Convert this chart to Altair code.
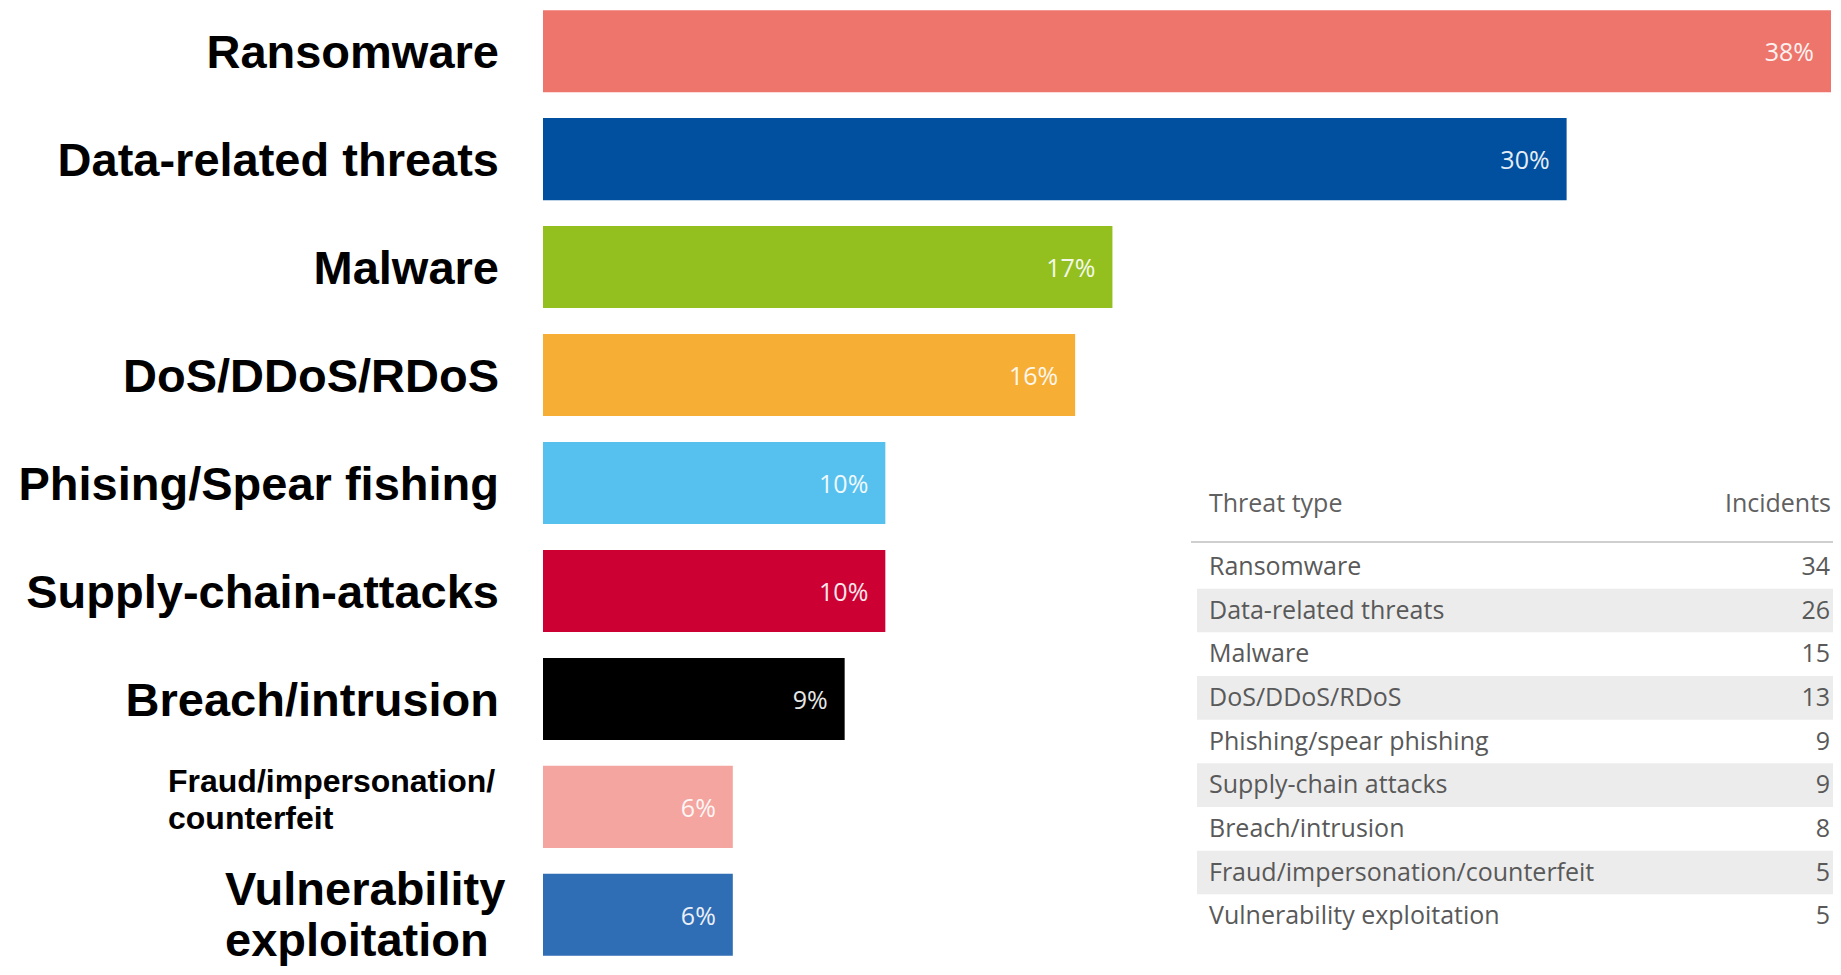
import altair as alt
import pandas as pd

# ---- data ----
categories = ["Ransomware", "Data-related threats", "Malware", "DoS/DDoS/RDoS",
              "Phising/Spear fishing", "Supply-chain-attacks", "Breach/intrusion",
              "Fraud/impersonation/\ncounterfeit", "Vulnerability\nexploitation"]
values = [38, 30.2, 16.8, 15.7, 10.1, 10.1, 8.9, 5.6, 5.6]
pct_labels = ["38%", "30%", "17%", "16%", "10%", "10%", "9%", "6%", "6%"]
colors = ["#ee756c", "#00509f", "#93c01f", "#f6ae35", "#56c1ee",
          "#cc0033", "#000000", "#f4a59f", "#2f6db5"]

table_types = ["Ransomware", "Data-related threats", "Malware", "DoS/DDoS/RDoS",
               "Phishing/spear phishing", "Supply-chain attacks", "Breach/intrusion",
               "Fraud/impersonation/counterfeit", "Vulnerability exploitation"]
table_incidents = [34, 26, 15, 13, 9, 9, 8, 5, 5]
table_header = ["Threat type", "Incidents"]

bars_df = pd.DataFrame({"cat": categories, "value": values, "pct": pct_labels})
table_df = pd.DataFrame({"ttype": table_types, "inc": table_incidents,
                         "idx": list(range(len(table_types)))})
header_df = pd.DataFrame({"h1": [table_header[0]], "h2": [table_header[1]]})

FRAUD = categories[7]
VULN = categories[8]

y_enc = alt.Y("cat:N", sort=categories, axis=None,
              scale=alt.Scale(paddingInner=0.24, paddingOuter=0.02))
x_scale = alt.Scale(domain=[0, 38], nice=False, zero=True)

base = alt.Chart(bars_df)

bars = base.mark_bar().encode(
    y=y_enc,
    x=alt.X("value:Q", scale=x_scale, axis=None),
    color=alt.Color("cat:N", scale=alt.Scale(domain=categories, range=colors), legend=None),
)

pct = base.mark_text(align="right", baseline="middle", dx=-17, dy=2,
                     font="Open Sans", fontSize=25, color="white", opacity=0.9).encode(
    y=y_enc,
    x=alt.X("value:Q", scale=x_scale),
    text="pct:N",
)

labels_main = base.transform_filter(
    (alt.datum.cat != FRAUD) & (alt.datum.cat != VULN)
).mark_text(align="right", baseline="middle", dx=-44, dy=3, font="Liberation Sans",
            fontWeight="bold", fontSize=47, color="black").encode(
    y=y_enc, x=alt.datum(0), text="cat:N")

labels_fraud = base.transform_filter(alt.datum.cat == FRAUD).mark_text(
    align="left", baseline="middle", dx=-375, dy=-25, font="Liberation Sans",
    fontWeight="bold", fontSize=32, lineHeight=37, lineBreak="\n", color="black").encode(
    y=y_enc, x=alt.datum(0), text="cat:N")

labels_vuln = base.transform_filter(alt.datum.cat == VULN).mark_text(
    align="left", baseline="middle", dx=-318, dy=-24, font="Liberation Sans",
    fontWeight="bold", fontSize=47, lineHeight=51, lineBreak="\n", color="black").encode(
    y=y_enc, x=alt.datum(0), text="cat:N")

bar_layer = alt.layer(bars, pct, labels_main, labels_fraud, labels_vuln)

# ---- table ----
ty = alt.Y("ttype:N", sort=table_types, axis=None,
           scale=alt.Scale(range=[537, 930], paddingInner=0, paddingOuter=0))
tbase = alt.Chart(table_df)

shade = tbase.transform_filter("datum.idx % 2 == 1").mark_rect(color="#ececec").encode(
    y=ty, x=alt.value(654), x2=alt.value(1300))

ttext = tbase.mark_text(align="left", baseline="middle", font="Open Sans",
                        fontSize=25, color="#595959").encode(
    y=ty, x=alt.value(666), text="ttype:N")

tnum = tbase.mark_text(align="right", baseline="middle", font="Open Sans",
                       fontSize=25, color="#595959").encode(
    y=ty, x=alt.value(1287), text="inc:Q")

hbase = alt.Chart(header_df)
h1 = hbase.mark_text(align="left", baseline="middle", font="Open Sans",
                     fontSize=25, color="#606060").encode(
    x=alt.value(666), y=alt.value(496), text="h1:N")
h2 = hbase.mark_text(align="right", baseline="middle", font="Open Sans",
                     fontSize=25, color="#606060").encode(
    x=alt.value(1288), y=alt.value(496), text="h2:N")
hline = hbase.mark_rule(color="#cfcfcf", strokeWidth=2).encode(
    x=alt.value(648), x2=alt.value(1300), y=alt.value(534))

table_layer = alt.layer(shade, hline, ttext, tnum, h1, h2)

chart = alt.layer(bar_layer, table_layer).resolve_scale(y="independent").properties(
    width=1288, height=950,
    padding={"left": 535, "top": 0, "right": 2, "bottom": 8},
    autosize=alt.AutoSizeParams(type="none"),
).configure_view(stroke=None)

chart.save("out.html", embed_options={"renderer": "svg", "actions": False})
